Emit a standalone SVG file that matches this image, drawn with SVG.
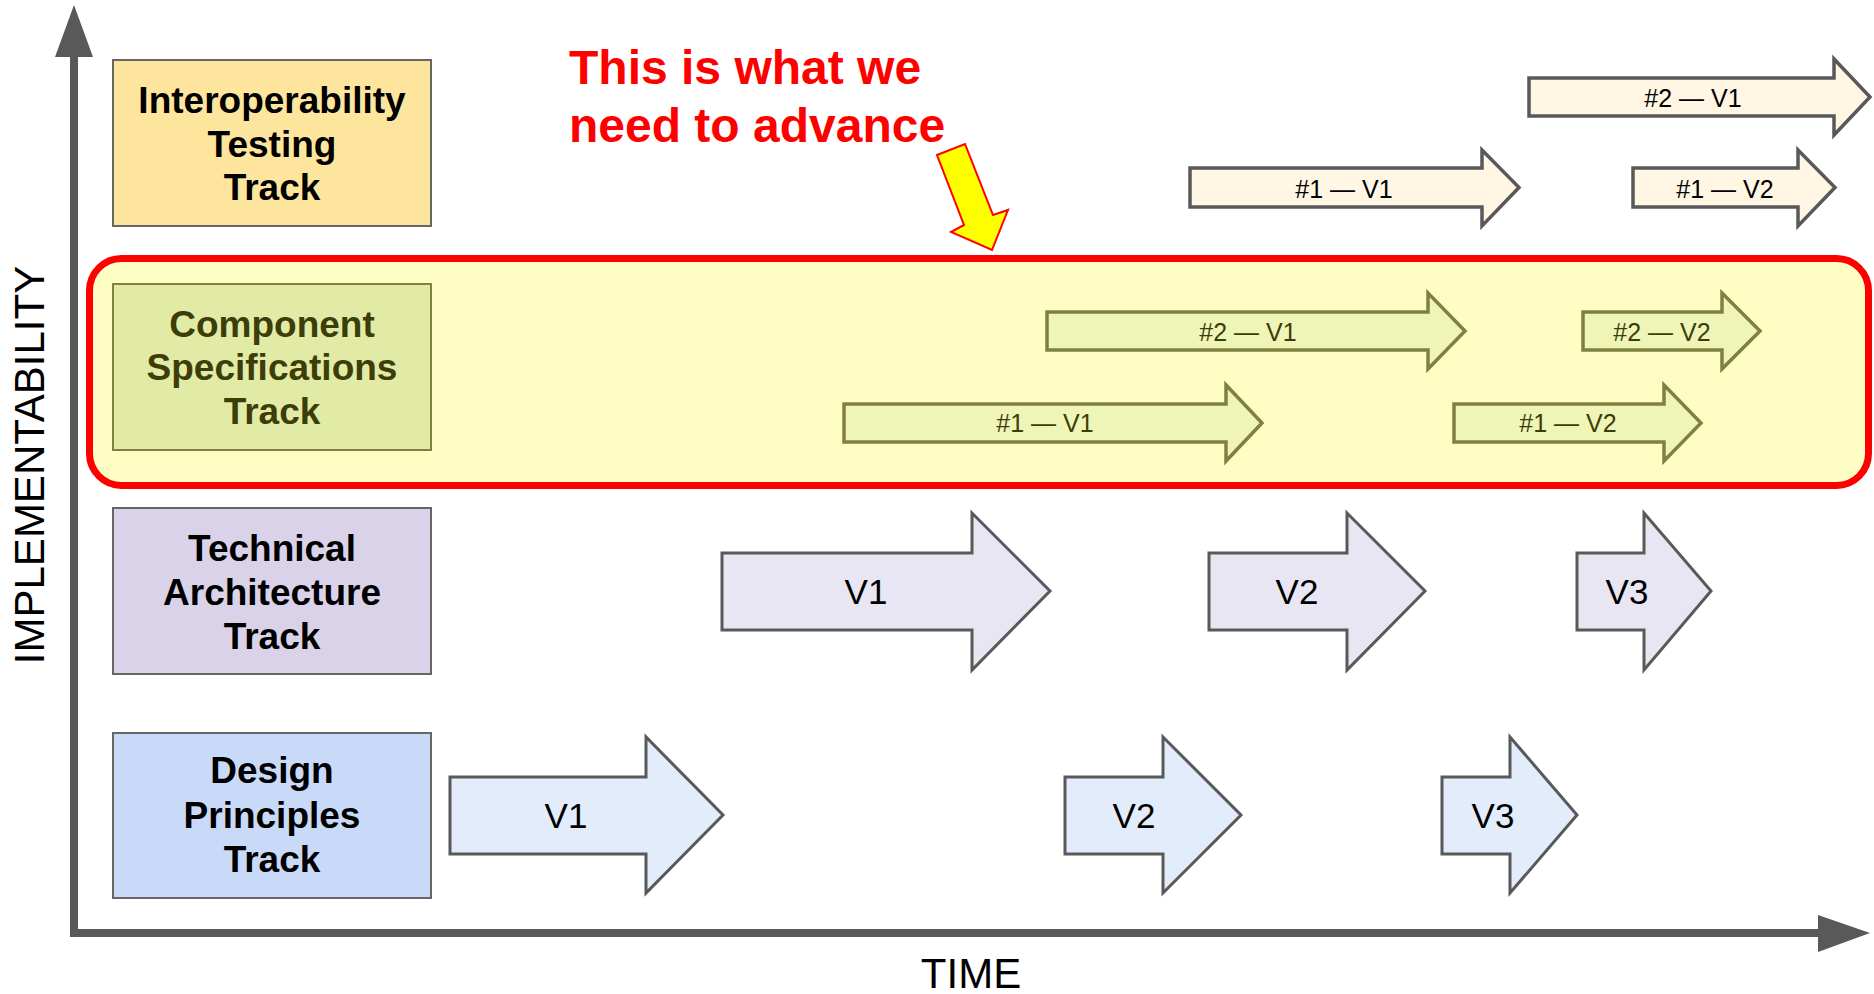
<svg xmlns="http://www.w3.org/2000/svg" width="1874" height="994" viewBox="0 0 1874 994">
<style>
.lbl{font-family:"Liberation Sans",Arial,sans-serif;font-weight:bold;font-size:37px;text-anchor:middle;fill:#000}
.small{font-family:"Liberation Sans",Arial,sans-serif;font-size:25px;text-anchor:middle;fill:#000}
.big{font-family:"Liberation Sans",Arial,sans-serif;font-size:35px;text-anchor:middle;fill:#000}
.axt{font-family:"Liberation Sans",Arial,sans-serif;font-size:42px;fill:#000}
.box{stroke:#666;stroke-width:2}
.ia{fill:#fff6e3;stroke:#595959;stroke-width:3.5}
.ca{fill:#eff5b6;stroke:#808040;stroke-width:3.5}
.ta{fill:#e9e6f4;stroke:#595959;stroke-width:3}
.da{fill:#e2ecfb;stroke:#595959;stroke-width:3}
.ct{fill:#3d3d0a}
</style>
<rect width="1874" height="994" fill="#fff"/>

<g id="axes" fill="#595959">
  <line x1="74" y1="55" x2="74" y2="937" stroke="#595959" stroke-width="8"/>
  <polygon points="74,5 55,57 93,57"/>
  <line x1="70" y1="933" x2="1820" y2="933" stroke="#595959" stroke-width="8"/>
  <polygon points="1870,933 1818,915 1818,952"/>
  <text class="axt" transform="translate(44,465) rotate(-90)" text-anchor="middle">IMPLEMENTABILITY</text>
  <text class="axt" x="971" y="988" text-anchor="middle">TIME</text>
</g>

<g id="focus-band">
  <rect x="89.5" y="258.5" width="1779" height="227" rx="32" ry="32" fill="#fefec4" stroke="#ff0000" stroke-width="7"/>
</g>

<g id="track-interop">
  <rect class="box" x="113" y="60" width="318" height="166" fill="#fde59d"/>
  <text class="lbl" x="272" y="113">Interoperability</text>
  <text class="lbl" x="272" y="157">Testing</text>
  <text class="lbl" x="272" y="200">Track</text>
</g>
<g id="track-component">
  <rect x="113" y="284" width="318" height="166" fill="#e1eba5" stroke="#808040" stroke-width="2"/>
  <text class="lbl ct" x="272" y="337">Component</text>
  <text class="lbl ct" x="272" y="380">Specifications</text>
  <text class="lbl ct" x="272" y="424">Track</text>
</g>
<g id="track-technical">
  <rect class="box" x="113" y="508" width="318" height="166" fill="#d9d2e9"/>
  <text class="lbl" x="272" y="561">Technical</text>
  <text class="lbl" x="272" y="605">Architecture</text>
  <text class="lbl" x="272" y="649">Track</text>
</g>
<g id="track-design">
  <rect class="box" x="113" y="733" width="318" height="165" fill="#c9daf8"/>
  <text class="lbl" x="272" y="783">Design</text>
  <text class="lbl" x="272" y="828">Principles</text>
  <text class="lbl" x="272" y="872">Track</text>
</g>

<g id="interop-1-v1">
  <path class="ia" d="M1190,168 H1482 V150 L1519,187.5 L1482,226 V207 H1190 Z"/>
  <text class="small" x="1344" y="198">#1 — V1</text>
</g>
<g id="interop-1-v2">
  <path class="ia" d="M1633,168 H1798 V150 L1835,187.5 L1798,226 V207 H1633 Z"/>
  <text class="small" x="1725" y="198">#1 — V2</text>
</g>
<g id="interop-2-v1">
  <path class="ia" d="M1529,78 H1834 V59 L1870,97 L1834,135 V116 H1529 Z"/>
  <text class="small" x="1693" y="107">#2 — V1</text>
</g>

<g id="comp-1-v1">
  <path class="ca" d="M844,404 H1226 V385 L1262,423 L1226,461 V442 H844 Z"/>
  <text class="small ct" x="1045" y="432">#1 — V1</text>
</g>
<g id="comp-1-v2">
  <path class="ca" d="M1454,404 H1664 V385 L1701,423 L1664,461 V442 H1454 Z"/>
  <text class="small ct" x="1568" y="432">#1 — V2</text>
</g>
<g id="comp-2-v1">
  <path class="ca" d="M1047,312 H1428 V293 L1465,331 L1428,369 V350 H1047 Z"/>
  <text class="small ct" x="1248" y="341">#2 — V1</text>
</g>
<g id="comp-2-v2">
  <path class="ca" d="M1583,312 H1722 V293 L1760,331 L1722,369 V350 H1583 Z"/>
  <text class="small ct" x="1662" y="341">#2 — V2</text>
</g>

<g id="tech-v1">
  <path class="ta" d="M722,553 H972 V513 L1050,591 L972,670 V630 H722 Z"/>
  <text class="big" x="866" y="604">V1</text>
</g>
<g id="tech-v2">
  <path class="ta" d="M1209,553 H1347 V513 L1425,591 L1347,670 V630 H1209 Z"/>
  <text class="big" x="1297" y="604">V2</text>
</g>
<g id="tech-v3">
  <path class="ta" d="M1577,553 H1644 V513 L1711,591 L1644,670 V630 H1577 Z"/>
  <text class="big" x="1627" y="604">V3</text>
</g>

<g id="design-v1">
  <path class="da" d="M450,777 H646 V737 L723,815 L646,893 V854 H450 Z"/>
  <text class="big" x="566" y="828">V1</text>
</g>
<g id="design-v2">
  <path class="da" d="M1065,777 H1163 V737 L1241,815 L1163,893 V854 H1065 Z"/>
  <text class="big" x="1134" y="828">V2</text>
</g>
<g id="design-v3">
  <path class="da" d="M1442,777 H1510 V737 L1577,815 L1510,893 V854 H1442 Z"/>
  <text class="big" x="1493" y="828">V3</text>
</g>

<g id="callout">
  <text font-family="'Liberation Sans',Arial,sans-serif" font-weight="bold" font-size="48" fill="#ff0000">
    <tspan x="569" y="84">This is what we</tspan>
    <tspan x="569" y="142">need to advance</tspan>
  </text>
</g>
<g id="connectors">
  <polygon points="937,155 965,144 993,215 1008,210 992,250 951,232 964,225" fill="#ffff00" stroke="#ff0000" stroke-width="2" stroke-linejoin="miter"/>
</g>
</svg>
